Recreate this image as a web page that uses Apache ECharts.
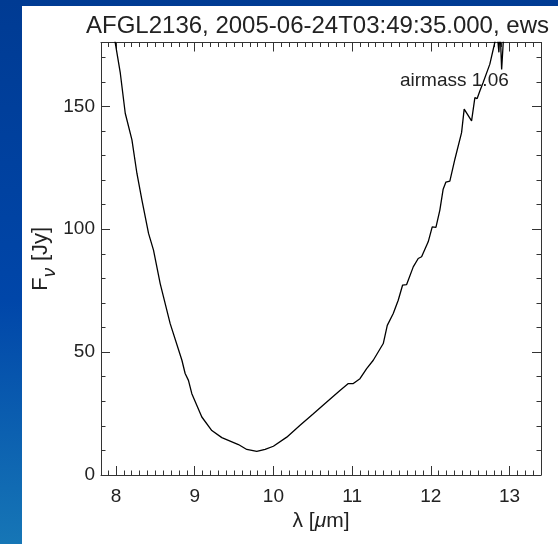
<!DOCTYPE html>
<html>
<head>
<meta charset="utf-8">
<script src="https://cdn.jsdelivr.net/npm/echarts@6/dist/echarts.min.js"></script>
<style>
html, body { margin: 0; padding: 0; }
body {
    width: 558px;
    height: 544px;
    position: relative;
    overflow: hidden;
    background: linear-gradient(to bottom, #003b93 0%, #0046a9 55%, #1676b6 100%);
}
#chart {
    position: absolute;
    left: 22px;
    top: 6px;
    width: 536px;
    height: 538px;
    background: #fff;
}
</style>
</head>
<body>
<div id="chart"></div>
<script>
// spectrum
const wavelength = [7.98, 8.055, 8.118, 8.203, 8.266, 8.33, 8.414, 8.477, 8.562, 8.689,
    8.838, 8.879, 8.921, 8.964, 9.091, 9.218, 9.345, 9.556, 9.662, 9.789,
    9.895, 10.0, 10.17, 10.339, 10.508, 10.678, 10.846, 10.952, 11.015, 11.1,
    11.185, 11.269, 11.396, 11.447, 11.523, 11.586, 11.642, 11.693, 11.777, 11.84,
    11.883, 11.967, 12.018, 12.065, 12.115, 12.157, 12.192, 12.242, 12.306, 12.391,
    12.424, 12.518, 12.56, 12.589, 12.623, 12.665, 12.75, 12.813, 12.84, 12.865,
    12.88, 12.9, 12.935, 13.1, 13.4];
const flux = [178, 163.6, 147.2, 136.4, 122.8, 111.9, 98.3, 91.5, 77.9, 61.6,
    46.7, 41.3, 38.5, 33.1, 23.6, 18.1, 15.2, 12.4, 10.4, 9.6,
    10.4, 11.7, 15.4, 20.2, 24.9, 29.7, 34.4, 37.2, 37.2, 39.2,
    43.3, 46.7, 53.5, 60.9, 65.7, 71.1, 77.3, 77.5, 84.7, 88.1,
    88.8, 94.9, 101.0, 100.8, 107.8, 116.3, 119.2, 119.6, 128.5, 139.3,
    148.9, 144.1, 153.6, 153.2, 156.3, 159.7, 167.2, 176.0, 181, 172,
    182, 165, 184, 195, 210];

const xTicks = [8, 9, 10, 11, 12, 13];
const yTicks = [0, 50, 100, 150];
const xMinor = [];
for (let i = 79; i <= 134; i++) { if (i % 10 !== 0) xMinor.push(i / 10); }
const yMinor = [];
for (let v = 10; v <= 170; v += 10) { if (v % 50 !== 0) yMinor.push(v); }

const titleText = 'AFGL2136, 2005-06-24T03:49:35.000, ews';
const noteText = 'airmass 1.06';

const ink = '#222';
const axisCol = '#333';
const font = 'Liberation Sans';

function makeAxis(dim, pos, major, showLabel) {
    const ax = {
        type: 'value',
        position: pos,
        min: dim === 'x' ? 7.81 : 0,
        max: dim === 'x' ? 13.4 : 176,
        splitLine: { show: false },
        axisLine: { show: major, onZero: false, lineStyle: { color: axisCol, width: 1 } },
        axisTick: {
            show: true,
            inside: true,
            length: major ? 9 : 4.5,
            customValues: major ? (dim === 'x' ? xTicks : yTicks) : (dim === 'x' ? xMinor : yMinor),
            lineStyle: { color: axisCol, width: 1 }
        },
        axisLabel: { show: false }
    };
    if (showLabel) {
        ax.axisLabel = {
            show: true,
            customValues: dim === 'x' ? xTicks : yTicks,
            color: ink,
            fontFamily: font,
            fontSize: 19,
            margin: dim === 'x' ? 12 : 6
        };
    }
    return ax;
}

const xAxes = [
    makeAxis('x', 'bottom', true, true),
    makeAxis('x', 'bottom', false, false),
    makeAxis('x', 'top', true, false),
    makeAxis('x', 'top', false, false)
];
xAxes[0].name = '{n|λ [}{i|μ}{n|m]}';
xAxes[0].nameLocation = 'middle';
xAxes[0].nameGap = 33;
xAxes[0].nameTextStyle = {
    rich: {
        n: { fontFamily: font, fontSize: 21, color: ink },
        i: { fontFamily: font, fontSize: 21, fontStyle: 'italic', color: ink }
    }
};

const yAxes = [
    makeAxis('y', 'left', true, true),
    makeAxis('y', 'left', false, false),
    makeAxis('y', 'right', true, false),
    makeAxis('y', 'right', false, false)
];
yAxes[0].name = '{n|F}{s|ν}  {n|[Jy]}';
yAxes[0].nameLocation = 'middle';
yAxes[0].nameGap = 42;
yAxes[0].nameMoveOverlap = false;
yAxes[0].nameTextStyle = {
    rich: {
        n: { fontFamily: font, fontSize: 22, color: ink },
        s: { fontFamily: font, fontSize: 19, fontStyle: 'italic', color: ink, padding: [18, 0, 0, 0] }
    }
};

const chart = echarts.init(document.getElementById('chart'));
chart.setOption({
    animation: false,
    backgroundColor: '#fff',
    title: [
        {
            text: titleText,
            left: 64,
            top: 8,
            padding: 0,
            textStyle: { fontFamily: font, fontSize: 24, fontWeight: 'normal', color: ink }
        },
        {
            text: noteText,
            left: 378,
            top: 65,
            padding: 0,
            textStyle: { fontFamily: font, fontSize: 19, fontWeight: 'normal', color: ink }
        }
    ],
    grid: { left: 79, right: 17, top: 36.5, bottom: 69, containLabel: false, outerBoundsMode: 'none' },
    xAxis: xAxes,
    yAxis: yAxes,
    series: [{
        type: 'line',
        xAxisIndex: 0,
        yAxisIndex: 0,
        data: wavelength.map((w, i) => [w, flux[i]]),
        showSymbol: false,
        clip: true,
        lineStyle: { color: '#000', width: 1.3 }
    }]
});
</script>
</body>
</html>
